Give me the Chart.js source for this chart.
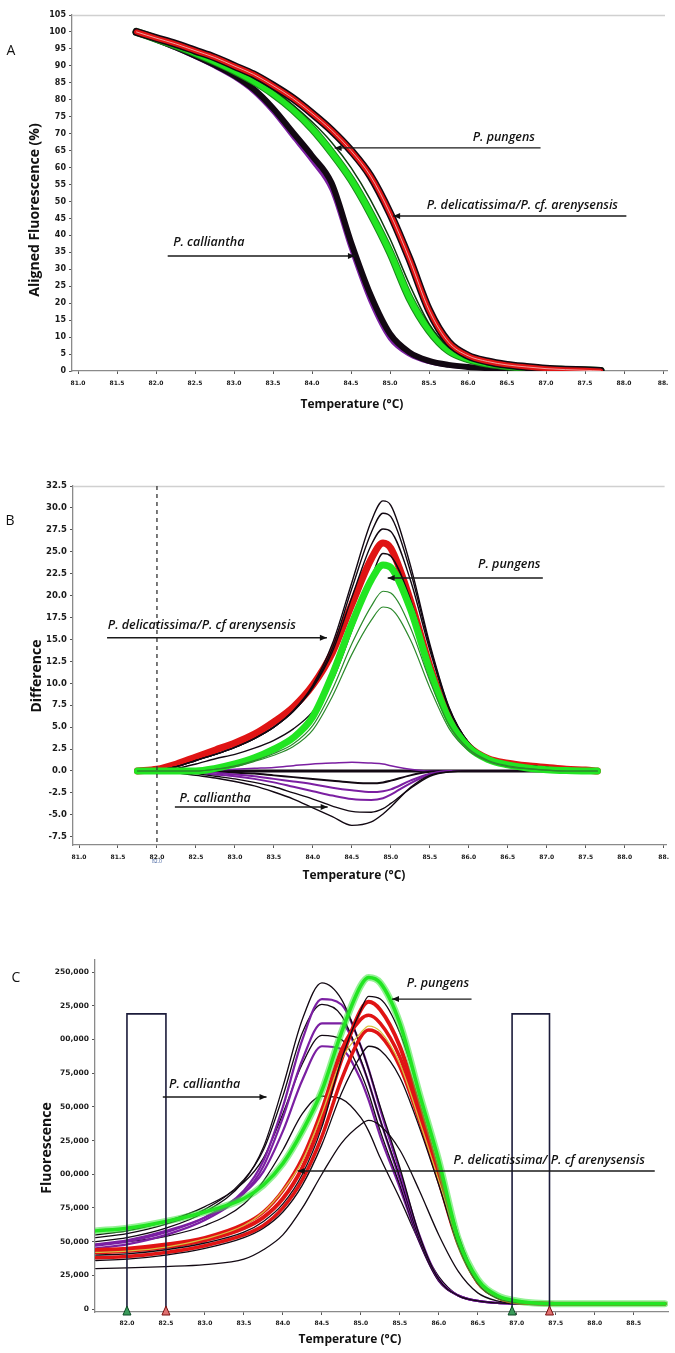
<!DOCTYPE html>
<html><head><meta charset="utf-8">
<script src="https://cdn.jsdelivr.net/npm/chart.js@4.4.1/dist/chart.umd.min.js"></script>
<style>
html,body{margin:0;padding:0;background:#fff;}
body{width:675px;height:1353px;position:relative;overflow:hidden;}
.panel{position:absolute;left:0;width:675px;}
</style></head><body>
<div class="panel" style="top:0;height:420px"><canvas id="cA"></canvas></div>
<div class="panel" style="top:440px;height:450px"><canvas id="cB"></canvas></div>
<div class="panel" style="top:900px;height:453px"><canvas id="cC"></canvas></div>
<script>
// ---------------- Panel A : aligned melt curves (%) ----------------
const aTemps = [81.75, 82.0, 82.25, 82.5, 82.75, 83.0, 83.25, 83.5, 83.75, 84.0, 84.25, 84.5, 84.75, 85.0, 85.25, 85.5, 85.75, 86.0, 86.25, 86.5, 86.75, 87.0, 87.25, 87.5, 87.7];
const aPungens = [100, 98.2, 96.5, 94.5, 92.5, 90, 87.5, 84.2, 80.5, 76, 71, 65, 57.5, 46.5, 33, 18, 8.5, 4.5, 2.8, 1.8, 1.2, 0.7, 0.4, 0.2, 0];
const aDelicatissima = [100, 98, 96, 93.8, 91.3, 88.6, 85.5, 81.8, 77.2, 71.5, 64.5, 56.5, 46.5, 35, 21.5, 12, 6, 3.5, 2.2, 1.4, 0.9, 0.5, 0.3, 0.15, 0];
const aDelicatissimaDark = [100, 98, 96.2, 94, 91.8, 89.2, 86.5, 83, 78.6, 73.5, 67.5, 60, 50.5, 39, 25.5, 14, 7, 4, 2.5, 1.6, 1, 0.6, 0.35, 0.15, 0];
const aCalliantha = [100, 97.8, 95.5, 93, 90.3, 87.2, 83.2, 77.5, 70.5, 63.5, 55.5, 38, 22.5, 11, 5.5, 3, 1.8, 1.2, 0.9, 0.6, 0.4, 0.3, 0.2, 0.1, 0];
const aCallianthaPurple = [100, 97.6, 95.2, 92.6, 89.8, 86.6, 82.4, 76.5, 69.2, 62, 53.5, 36, 20.5, 9.5, 4.8, 2.6, 1.6, 1.1, 0.8, 0.55, 0.35, 0.25, 0.15, 0.05, 0];
const aXTicks = [81.0, 81.5, 82.0, 82.5, 83.0, 83.5, 84.0, 84.5, 85.0, 85.5, 86.0, 86.5, 87.0, 87.5, 88.0, 88.5];
const aXTickLabels = ["81.0","81.5","82.0","82.5","83.0","83.5","84.0","84.5","85.0","85.5","86.0","86.5","87.0","87.5","88.0","88."];
const aYTicks = [0,5,10,15,20,25,30,35,40,45,50,55,60,65,70,75,80,85,90,95,100,105];
const aYTickLabels = ["0","5","10","15","20","25","30","35","40","45","50","55","60","65","70","75","80","85","90","95","100","105"];

// ---------------- Panel B : difference plot ----------------
const bTemps = [81.75, 82.0, 82.25, 82.5, 82.75, 83.0, 83.25, 83.5, 83.75, 84.0, 84.25, 84.5, 84.75, 84.9, 85.0, 85.25, 85.5, 85.75, 86.0, 86.25, 86.5, 86.75, 87.0, 87.25, 87.5, 87.65];
const bDelicatissima = [0, 0.2, 0.8, 1.6, 2.4, 3.2, 4.2, 5.6, 7.3, 9.8, 13.5, 19, 24.2, 26, 25.4, 19.5, 12, 6, 2.8, 1.4, 0.9, 0.6, 0.4, 0.2, 0.1, 0];
const bDelicatissimaDark = [0, 0.05, 0.3, 0.8, 1.4, 1.9, 2.6, 3.5, 4.8, 6.8, 10.3, 16, 22, 24.8, 24.5, 19.6, 12.3, 6.3, 3.0, 1.5, 0.9, 0.6, 0.4, 0.2, 0.1, 0];
const bPeak1 = [0, 0.1, 0.5, 1.2, 1.9, 2.7, 3.7, 5.0, 6.9, 9.8, 14.5, 21.5, 28.5, 30.8, 30.3, 23.5, 14.5, 7.2, 3.2, 1.5, 0.9, 0.6, 0.4, 0.2, 0.1, 0];
const bPeak2 = [0, 0.1, 0.5, 1.2, 1.9, 2.7, 3.7, 5.0, 6.8, 9.6, 14.0, 20.8, 27.2, 29.4, 29.0, 22.8, 14.2, 7.1, 3.2, 1.5, 0.9, 0.6, 0.4, 0.2, 0.1, 0];
const bPeak3 = [0, 0.1, 0.5, 1.2, 1.9, 2.7, 3.7, 5.0, 6.8, 9.5, 13.6, 19.8, 25.8, 27.6, 27.3, 21.8, 13.8, 7.0, 3.2, 1.5, 0.9, 0.6, 0.4, 0.2, 0.1, 0];
const bPungens = [0, 0, 0, 0, 0.3, 0.8, 1.5, 2.5, 3.8, 6.2, 11, 16.8, 21.8, 23.5, 23.2, 18.5, 11.5, 5.8, 2.7, 1.3, 0.7, 0.35, 0.15, 0.05, 0, 0];
const bPungensLow1 = [0, 0, 0, 0, 0.2, 0.6, 1.2, 2.0, 3.1, 5.2, 9.3, 14.5, 18.8, 20.5, 20.3, 16.4, 10.3, 5.2, 2.5, 1.2, 0.6, 0.3, 0.1, 0, 0, 0];
const bPungensLow2 = [0, 0, 0, 0, 0.2, 0.5, 1.1, 1.8, 2.8, 4.7, 8.5, 13.3, 17.2, 18.7, 18.5, 15.0, 9.5, 4.8, 2.3, 1.1, 0.5, 0.25, 0.1, 0, 0, 0];
const bBaseline = [0, 0, 0, 0, 0, 0, 0, 0, 0, 0, 0, 0, 0, 0, 0, 0, 0, 0, 0, 0, 0, 0, 0, 0, 0, 0];
const bCalliantha1 = [0, 0, -0.2, -0.5, -0.8, -1.2, -1.7, -2.4, -3.2, -4.2, -5.2, -6.2, -5.8, -4.9, -4.1, -1.9, -0.5, -0.1, 0, 0, 0, 0, 0, 0, 0, 0];
const bCalliantha2 = [0, 0, -0.1, -0.3, -0.6, -0.9, -1.3, -1.8, -2.5, -3.2, -4.0, -4.6, -4.7, -4.3, -3.7, -2.0, -0.6, -0.1, 0, 0, 0, 0, 0, 0, 0, 0];
const bCalliantha3 = [0, 0, -0.1, -0.2, -0.4, -0.6, -0.9, -1.3, -1.8, -2.3, -2.8, -3.2, -3.3, -3.1, -2.7, -1.4, -0.4, 0, 0, 0, 0, 0, 0, 0, 0, 0];
const bCalliantha4 = [0, 0, 0, -0.1, -0.2, -0.4, -0.6, -0.9, -1.2, -1.5, -1.9, -2.2, -2.4, -2.3, -2.1, -1.1, -0.3, 0, 0, 0, 0, 0, 0, 0, 0, 0];
const bCalliantha5 = [0, 0, 0, 0, -0.1, -0.2, -0.3, -0.5, -0.7, -0.9, -1.1, -1.3, -1.4, -1.3, -1.1, -0.5, -0.1, 0, 0, 0, 0, 0, 0, 0, 0, 0];
const bCalliantha6 = [0, 0, 0, 0, 0.1, 0.2, 0.3, 0.4, 0.6, 0.8, 0.9, 1.0, 0.9, 0.8, 0.6, 0.2, 0, 0, 0, 0, 0, 0, 0, 0, 0, 0];
const bXTicks = [81.0, 81.5, 82.0, 82.5, 83.0, 83.5, 84.0, 84.5, 85.0, 85.5, 86.0, 86.5, 87.0, 87.5, 88.0, 88.5];
const bXTickLabels = ["81.0","81.5","82.0","82.5","83.0","83.5","84.0","84.5","85.0","85.5","86.0","86.5","87.0","87.5","88.0","88."];
const bYTicks = [-7.5, -5, -2.5, 0, 2.5, 5, 7.5, 10, 12.5, 15, 17.5, 20, 22.5, 25, 27.5, 30, 32.5];
const bYTickLabels = ["-7.5","-5.0","-2.5","0.0","2.5","5.0","7.5","10.0","12.5","15.0","17.5","20.0","22.5","25.0","27.5","30.0","32.5"];

// ---------------- Panel C : fluorescence (thousands) ----------------
const cTemps = [81.6, 82.0, 82.5, 83.0, 83.5, 83.75, 84.0, 84.25, 84.5, 84.75, 85.0, 85.1, 85.25, 85.5, 85.75, 86.0, 86.25, 86.5, 86.75, 87.0, 87.5, 88.0, 88.9];
const cCallianthaK1 = [50, 53, 60, 72, 95, 120, 165, 215, 242, 230, 195, 178, 150, 105, 55, 22, 10, 6, 4.5, 4, 3.5, 3.5, 3.5];
const cCallianthaP1 = [47, 50, 57, 68, 88, 110, 150, 200, 230, 226, 195, 178, 148, 102, 55, 22, 10, 6, 4.5, 4, 3.5, 3.5, 3.5];
const cCallianthaK2 = [53, 56, 63, 74, 96, 118, 158, 205, 226, 218, 185, 168, 140, 98, 52, 21, 10, 6, 4.5, 4, 3.5, 3.5, 3.5];
const cCallianthaP2 = [45, 48, 55, 66, 86, 106, 142, 185, 212, 212, 184, 168, 140, 96, 52, 22, 10, 6, 4.5, 4, 3.5, 3.5, 3.5];
const cCallianthaK3 = [55, 58, 65, 76, 94, 112, 145, 182, 203, 200, 175, 160, 132, 92, 50, 21, 10, 6, 4.5, 4, 3.5, 3.5, 3.5];
const cCallianthaP3 = [48, 51, 58, 68, 86, 102, 132, 170, 195, 193, 170, 155, 128, 90, 50, 21, 10, 6, 4.5, 4, 3.5, 3.5, 3.5];
const cCallianthaK4 = [48, 50, 54, 62, 78, 95, 118, 145, 158, 156, 142, 132, 112, 82, 50, 24, 10, 6, 4.5, 4, 3.5, 3.5, 3.5];
const cPungens = [58, 60, 65, 72, 82, 92, 108, 132, 162, 205, 240, 246, 242, 212, 160, 110, 52, 22, 10, 6, 4, 4, 4];
const cDelicatissima1 = [42, 43, 46, 51, 60, 68, 82, 105, 140, 185, 222, 228, 222, 195, 150, 100, 50, 20, 9, 5, 4, 4, 4];
const cDelicatissima2 = [38, 39, 42, 47, 55, 62, 75, 96, 128, 170, 202, 207, 203, 180, 140, 95, 48, 20, 9, 5, 4, 4, 4];
const cDelicatissima3 = [44, 45, 48, 53, 63, 72, 88, 112, 148, 192, 215, 218, 212, 187, 145, 98, 49, 20, 9, 5, 4, 4, 4];
const cOther1 = [40, 41, 44, 49, 57, 65, 78, 100, 135, 185, 222, 232, 230, 205, 160, 108, 55, 22, 10, 5, 4, 4, 4];
const cOther2 = [36, 37, 40, 45, 53, 60, 72, 92, 122, 160, 188, 195, 192, 172, 135, 92, 47, 19, 8, 5, 4, 4, 4];
const cOther3 = [30, 30.5, 31.5, 33, 37, 44, 55, 75, 100, 123, 137, 140, 136, 118, 88, 55, 28, 12, 6, 4.5, 4, 4, 4];
const cOtherYellow = [42, 43, 46, 52, 62, 72, 88, 110, 145, 185, 205, 210, 206, 182, 140, 95, 48, 20, 9, 5, 4, 4, 4];
const cXTicks = [82.0, 82.5, 83.0, 83.5, 84.0, 84.5, 85.0, 85.5, 86.0, 86.5, 87.0, 87.5, 88.0, 88.5];
const cXTickLabels = ["82.0","82.5","83.0","83.5","84.0","84.5","85.0","85.5","86.0","86.5","87.0","87.5","88.0","88.5"];
const cYTicks = [0, 25, 50, 75, 100, 125, 150, 175, 200, 225, 250];
const cYTickLabels = ["0","25,000","50,000","75,000","00,000","25,000","50,000","75,000","00,000","25,000","250,000"];

// ---------------- helpers ----------------
const FONT = "'Open Sans', 'DejaVu Sans', sans-serif";
const TICKFONT = "'DejaVu Sans', sans-serif";
Chart.defaults.font.family = FONT;
Chart.defaults.animation = false;

function pts(xs, ys){ return xs.map((x,i)=>({x:x, y:ys[i]})); }
function series(xs, ys, color, width){
  return {data: pts(xs,ys), borderColor: color, borderWidth: width, pointRadius: 0, fill: false,
          cubicInterpolationMode: 'monotone', borderCapStyle: 'round', borderJoinStyle: 'round'};
}
function ordered(list){ return list.map((d,i)=>Object.assign(d,{order:-i})); }

function axisX(min, max, vals, labels, h, pad){
  return {type:'linear', min:min, max:max,
    afterBuildTicks: s=>{ s.ticks = vals.map(v=>({value:v})); },
    ticks:{autoSkip:false, maxRotation:0, minRotation:0, padding:pad, color:'#1a1a1a',
           font:{family:TICKFONT, size:6, weight:'bold'}, callback:(v,i)=>labels[i]},
    grid:{drawOnChartArea:false, drawTicks:true, tickLength:3, color:'#555', lineWidth:1},
    border:{display:true, color:'#8a8a8a', width:1.3},
    afterFit: s=>{ s.height = h; }};
}
function axisY(min, max, vals, labels, w, fsize){
  return {type:'linear', min:min, max:max,
    afterBuildTicks: s=>{ s.ticks = vals.map(v=>({value:v})); },
    ticks:{autoSkip:false, padding:3, color:'#1a1a1a', font:{family:TICKFONT, size:fsize, weight:'bold'},
           callback:(v,i)=>labels[i]},
    grid:{drawOnChartArea:false, drawTicks:true, tickLength:3, color:'#555', lineWidth:1},
    border:{display:true, color:'#8a8a8a', width:1.3},
    afterFit: s=>{ s.width = w; }};
}

function drawArrow(ctx, x1, y1, x2, y2){
  ctx.beginPath(); ctx.moveTo(x1,y1); ctx.lineTo(x2,y2); ctx.stroke();
  const a = Math.atan2(y2-y1, x2-x1), L = 7, W = 3;
  ctx.beginPath();
  ctx.moveTo(x2, y2);
  ctx.lineTo(x2 - L*Math.cos(a) + W*Math.sin(a), y2 - L*Math.sin(a) - W*Math.cos(a));
  ctx.lineTo(x2 - L*Math.cos(a) - W*Math.sin(a), y2 - L*Math.sin(a) + W*Math.cos(a));
  ctx.closePath(); ctx.fill();
}

function decoPlugin(cfg){
  return {id:'deco', afterDraw(chart){
    const ctx = chart.ctx, ca = chart.chartArea, xs = chart.scales.x, ys = chart.scales.y;
    ctx.save();
    if (cfg.topLine){
      ctx.strokeStyle = '#d0d0d0'; ctx.lineWidth = 1.3;
      ctx.beginPath(); ctx.moveTo(ca.left, ca.top+0.5); ctx.lineTo(ca.right-2, ca.top+0.5); ctx.stroke();
    }
    (cfg.dashed||[]).forEach(t=>{
      const px = xs.getPixelForValue(t);
      ctx.strokeStyle = '#333'; ctx.lineWidth = 1.3; ctx.setLineDash([4,4]);
      ctx.beginPath(); ctx.moveTo(px, ca.top); ctx.lineTo(px, ca.bottom); ctx.stroke();
      ctx.setLineDash([]);
      ctx.fillStyle = '#3a5a9a'; ctx.font = "5px " + FONT; ctx.textAlign = 'center'; ctx.textBaseline = 'middle';
      ctx.fillText(cfg.dashedLabel, px, ca.bottom + 17);
    });
    (cfg.boxes||[]).forEach(b=>{
      const l = xs.getPixelForValue(b.x1), r = xs.getPixelForValue(b.x2), t = ys.getPixelForValue(b.top);
      ctx.strokeStyle = '#1b1b3a'; ctx.lineWidth = 1.6;
      ctx.beginPath(); ctx.moveTo(l, ca.bottom); ctx.lineTo(l, t); ctx.lineTo(r, t); ctx.lineTo(r, ca.bottom); ctx.stroke();
      [[l,'#3a9a5a','#0d4a25'],[r,'#e07070','#7a1010']].forEach(([px,fc,sc])=>{
        ctx.beginPath(); ctx.moveTo(px, ca.bottom-6); ctx.lineTo(px-4, ca.bottom+3); ctx.lineTo(px+4, ca.bottom+3); ctx.closePath();
        ctx.fillStyle = fc; ctx.fill(); ctx.strokeStyle = sc; ctx.lineWidth = 1; ctx.stroke();
      });
    });
    ctx.strokeStyle = '#1a1a1a'; ctx.fillStyle = '#111'; ctx.lineWidth = 1.4;
    (cfg.arrows||[]).forEach(a=>{
      drawArrow(ctx, xs.getPixelForValue(a.x1), ys.getPixelForValue(a.y), xs.getPixelForValue(a.x2), ys.getPixelForValue(a.y));
    });
    ctx.font = "italic 600 12.5px " + FONT; ctx.textAlign = 'left'; ctx.textBaseline = 'middle'; ctx.fillStyle = '#111';
    (cfg.texts||[]).forEach(t=>{
      ctx.fillText(t.t, xs.getPixelForValue(t.x), ys.getPixelForValue(t.y));
    });
    // panel letter
    ctx.font = "500 14px " + FONT; ctx.textAlign = 'center'; ctx.fillStyle = '#111';
    ctx.fillText(cfg.letter[0], cfg.letter[1], cfg.letter[2]);
    // axis titles
    ctx.font = "bold 12px " + FONT; ctx.fillStyle = '#111';
    ctx.fillText(cfg.xTitle[0], cfg.xTitle[1], cfg.xTitle[2]);
    ctx.font = "bold 14px " + FONT;
    ctx.save(); ctx.translate(cfg.yTitle[1], cfg.yTitle[2]); ctx.rotate(-Math.PI/2);
    ctx.fillText(cfg.yTitle[0], 0, 0); ctx.restore();
    ctx.restore();
  }};
}

function makeChart(id, datasets, xAxis, yAxis, padding, deco){
  return new Chart(document.getElementById(id), {
    type:'line',
    data:{datasets: ordered(datasets)},
    options:{responsive:true, maintainAspectRatio:false, devicePixelRatio:1, animation:false,
      layout:{padding:padding},
      plugins:{legend:{display:false}, tooltip:{enabled:false}},
      scales:{x:xAxis, y:yAxis}},
    plugins:[decoPlugin(deco)]
  });
}

const RED = '#e01414', GREEN = '#22e522', PURPLE = '#7b1fa2', BLACK = '#120812';

// ---------------- Chart A ----------------
makeChart('cA', [
  series(aTemps, aCallianthaPurple, PURPLE, 4),
  series(aTemps, aCalliantha, BLACK, 6),
  series(aTemps, aDelicatissima, '#1a8a1a', 8),
  series(aTemps, aDelicatissima, GREEN, 6),
  series(aTemps, aDelicatissimaDark, '#0c3a0c', 1.5),
  series(aTemps, aPungens, BLACK, 8),
  series(aTemps, aPungens, RED, 5),
  series(aTemps, aPungens, '#f6c0c0', 0.8)
], axisX(80.923, 88.551, aXTicks, aXTickLabels, 49, 6),
   axisY(0, 105, aYTicks, aYTickLabels, 72, 8),
   {top:15, left:0, right:8, bottom:0},
   {topLine:true,
    arrows:[{x1:86.93, x2:84.29, y:65.8},{x1:88.03, x2:85.04, y:45.7},{x1:82.15, x2:84.55, y:33.9}],
    texts:[{t:'P. pungens', x:86.06, y:69},{t:'P. delicatissima/P. cf. arenysensis', x:85.47, y:48.7},{t:'P. calliantha', x:82.22, y:37.8}],
    letter:['A', 11, 51], xTitle:['Temperature (°C)', 352, 405], yTitle:['Aligned Fluorescence (%)', 35, 210]});

// ---------------- Chart B ----------------
makeChart('cB', [
  series(bTemps, bBaseline, BLACK, 3),
  series(bTemps, bCalliantha6, PURPLE, 1.5),
  series(bTemps, bCalliantha5, BLACK, 2),
  series(bTemps, bCalliantha4, PURPLE, 2),
  series(bTemps, bCalliantha3, PURPLE, 2),
  series(bTemps, bCalliantha2, BLACK, 1.4),
  series(bTemps, bCalliantha1, BLACK, 1.4),
  series(bTemps, bDelicatissima, RED, 7),
  series(bTemps, bDelicatissimaDark, BLACK, 1.4),
  series(bTemps, bPeak3, BLACK, 1.4),
  series(bTemps, bPeak2, BLACK, 1.4),
  series(bTemps, bPeak1, BLACK, 1.4),
  series(bTemps, bPungens, GREEN, 7),
  series(bTemps, bPungensLow1, '#2c8a2c', 1.2),
  series(bTemps, bPungensLow2, '#2c8a2c', 1.2)
], axisX(80.923, 88.538, bXTicks, bXTickLabels, 45, 6),
   axisY(-8.44, 32.5, bYTicks, bYTickLabels, 73, 8.5),
   {top:46, left:0, right:8, bottom:0},
   {topLine:true, dashed:[82.0], dashedLabel:'82.0',
    arrows:[{x1:81.36, x2:84.18, y:15.2},{x1:86.95, x2:84.96, y:22.0},{x1:82.23, x2:84.19, y:-4.1}],
    texts:[{t:'P. delicatissima/P. cf arenysensis', x:81.37, y:16.65},{t:'P. pungens', x:86.12, y:23.5},{t:'P. calliantha', x:82.29, y:-3.08}],
    letter:['B', 10, 81], xTitle:['Temperature (°C)', 354, 436], yTitle:['Difference', 37, 236]});

// ---------------- Chart C ----------------
makeChart('cC', [
  series(cTemps, cCallianthaK4, BLACK, 1.3),
  series(cTemps, cCallianthaP3, PURPLE, 2.2),
  series(cTemps, cCallianthaK3, BLACK, 1.3),
  series(cTemps, cCallianthaP2, PURPLE, 2.2),
  series(cTemps, cCallianthaK2, BLACK, 1.3),
  series(cTemps, cCallianthaP1, PURPLE, 2.2),
  series(cTemps, cCallianthaK1, BLACK, 1.3),
  series(cTemps, cOther3, BLACK, 1.3),
  series(cTemps, cDelicatissima2, RED, 3.5),
  series(cTemps, cDelicatissima3, RED, 3.5),
  series(cTemps, cDelicatissima1, RED, 4),
  series(cTemps, cOtherYellow, '#d8c040', 1.3),
  series(cTemps, cOther2, BLACK, 1.3),
  series(cTemps, cOther1, BLACK, 1.3),
  series(cTemps, cPungens, 'rgba(60,230,60,0.55)', 7),
  series(cTemps, cPungens, GREEN, 3.5)
], axisX(81.59, 88.94, cXTicks, cXTickLabels, 41, 5),
   axisY(-2.2, 259, cYTicks, cYTickLabels, 95, 7.5),
   {top:60, left:0, right:7, bottom:0},
   {topLine:false,
    boxes:[{x1:82.0, x2:82.5, top:219},{x1:86.94, x2:87.42, top:219}],
    arrows:[{x1:86.42, x2:85.40, y:230},{x1:82.46, x2:83.79, y:157.3},{x1:88.77, x2:84.19, y:102.4}],
    texts:[{t:'P. pungens', x:85.59, y:241.8},{t:'P. calliantha', x:82.54, y:166.9},{t:'P. delicatissima/ P. cf arenysensis', x:86.19, y:110.5}],
    letter:['C', 16, 78], xTitle:['Temperature (°C)', 350, 440], yTitle:['Fluorescence', 47, 248]});
</script>
</body></html>
